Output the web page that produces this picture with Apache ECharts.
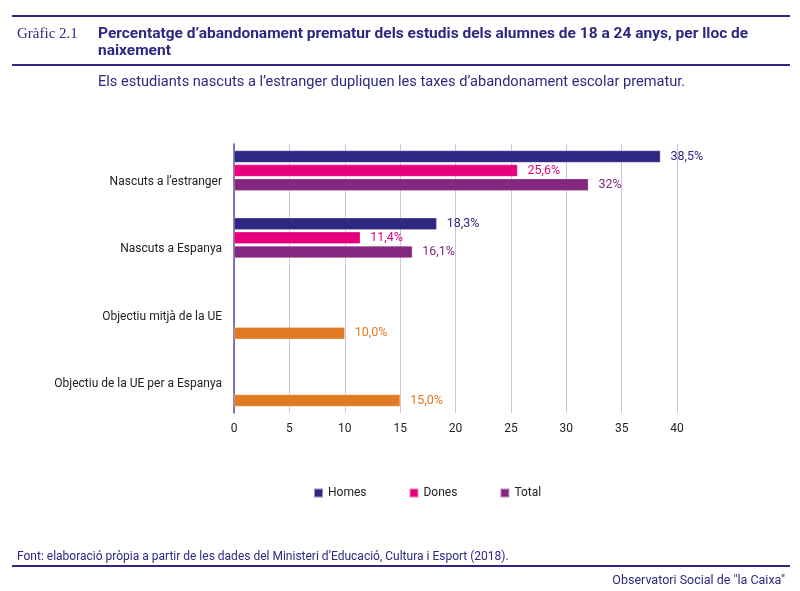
<!DOCTYPE html>
<html>
<head>
<meta charset="utf-8">
<script src="https://cdn.jsdelivr.net/npm/echarts@6/dist/echarts.min.js"></script>
<style>
  html, body { margin: 0; padding: 0; background: #fff; }
  #chart { width: 800px; height: 591px; }
</style>
</head>
<body>
<div id="chart"></div>
<script>
// dades
const categories = ['Nascuts a l\u2019estranger', 'Nascuts a Espanya', 'Objectiu mitjà de la UE', 'Objectiu de la UE per a Espanya'];
const homes = [38.5, 18.3, null, null];
const dones = [25.6, 11.4, null, null];
const total = [32, 16.1, null, null];
const objectiu = [null, null, 10.0, 15.0];
const homesLabels = ['38,5%', '18,3%', '', ''];
const donesLabels = ['25,6%', '11,4%', '', ''];
const totalLabels = ['32%', '16,1%', '', ''];
const objectiuLabels = ['', '', '10,0%', '15,0%'];
const xTicks = [0, 5, 10, 15, 20, 25, 30, 35, 40];

const blau = '#2e2882';
const rosa = '#e6007e';
const lila = '#84277f';
const taronja = '#e07b24';
const font = 'Roboto, "Liberation Sans", sans-serif';

function barSeries(name, values, labels, color) {
  return {
    name: name,
    type: 'bar',
    data: values,
    barWidth: 12,
    barGap: '17%',
    itemStyle: { color: color, borderColor: 'rgba(255,255,255,0.5)', borderWidth: 0.5 },
    label: {
      show: true,
      position: 'right',
      distance: 10,
      color: color,
      fontSize: 12.5,
      fontFamily: font,
      formatter: p => labels[p.dataIndex]
    }
  };
}

const chart = echarts.init(document.getElementById('chart'));
chart.setOption({
  animation: false,
  title: [
    { text: 'Gràfic 2.1', left: 12, top: 22,
      textStyle: { fontFamily: '"Liberation Serif", serif', fontWeight: 'normal', fontSize: 15, color: blau } },
    { text: 'Percentatge d\u2019abandonament prematur dels estudis dels alumnes de 18 a 24 anys, per lloc de\nnaixement',
      left: 93, top: 21,
      textStyle: { fontFamily: font, fontWeight: 'bold', fontSize: 15.5, lineHeight: 17, color: blau } },
    { text: 'Els estudiants nascuts a l\u2019estranger dupliquen les taxes d\u2019abandonament escolar prematur.',
      left: 93, top: 70,
      textStyle: { fontFamily: font, fontWeight: 'normal', fontSize: 14.6, color: blau } },
    { text: 'Font: elaboració pròpia a partir de les dades del Ministeri d\u2019Educació, Cultura i Esport (2018).',
      left: 12, top: 546,
      textStyle: { fontFamily: font, fontWeight: 'normal', fontSize: 12, color: blau } },
    { text: 'Observatori Social de "la Caixa"', right: 10, top: 569,
      textStyle: { fontFamily: font, fontWeight: 'normal', fontSize: 12.5, color: blau } }
  ],
  graphic: [
    { type: 'line', shape: { x1: 12, y1: 16, x2: 790, y2: 16 }, style: { stroke: blau, lineWidth: 2 } },
    { type: 'line', shape: { x1: 12, y1: 65, x2: 790, y2: 65 }, style: { stroke: blau, lineWidth: 2 } },
    { type: 'line', shape: { x1: 12, y1: 566, x2: 790, y2: 566 }, style: { stroke: blau, lineWidth: 2 } }
  ],
  legend: {
    data: ['Homes', 'Dones', 'Total'],
    left: 308, top: 482,
    itemWidth: 9, itemHeight: 9, itemGap: 42,
    icon: 'rect',
    textStyle: { fontFamily: font, fontSize: 12, color: '#222' }
  },
  grid: { left: 234, right: 123, top: 144, bottom: 178, containLabel: false },
  xAxis: {
    type: 'value',
    min: 0, max: 40, interval: 5,
    axisLine: { show: false },
    axisTick: { show: false },
    axisLabel: { color: '#222', fontSize: 12, fontFamily: font, margin: 10,
      formatter: v => xTicks.includes(v) ? String(v) : '' },
    splitLine: { show: true, lineStyle: { color: '#c9c5df', width: 1 } }
  },
  yAxis: {
    type: 'category',
    data: categories,
    inverse: true,
    axisLine: { show: true, lineStyle: { color: '#5a4ea5', width: 1.5 } },
    axisTick: { show: false },
    axisLabel: {
      margin: 12,
      formatter: v => '{c|' + v + '}',
      rich: { c: { color: '#222', fontSize: 12, fontFamily: font, padding: [9, 0, 0, 0] } }
    },
    splitLine: { show: false }
  },
  series: [
    barSeries('Homes', homes, homesLabels, blau),
    barSeries('Dones', dones, donesLabels, rosa),
    barSeries('Total', total, totalLabels, lila),
    barSeries('Objectiu', objectiu, objectiuLabels, taronja)
  ]
});
</script>
</body>
</html>
